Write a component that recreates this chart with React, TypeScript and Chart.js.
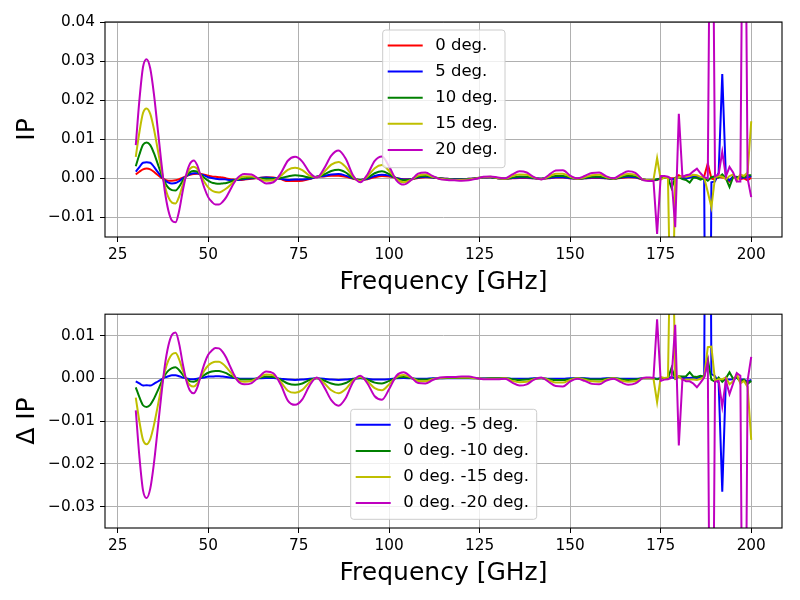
import { useEffect, useRef } from "react";
import { Chart, registerables } from "chart.js";

Chart.register(...registerables);

// frequency grid [GHz]: 1 GHz up to 60, 2 GHz to 170, then 1 GHz in the noisy band
const freq = [
  30, 31, 32, 33, 34, 35, 36, 37, 38, 39, 40, 41, 42, 43, 44, 45, 46, 47, 48, 49,
  50, 51, 52, 53, 54, 55, 56, 57, 58, 59, 60,
  62, 64, 66, 68, 70, 72, 74, 76, 78, 80, 82, 84, 86, 88, 90, 92, 94, 96, 98, 100,
  102, 104, 106, 108, 110, 112, 114, 116, 118, 120, 122, 124, 126, 128, 130, 132, 134, 136, 138, 140,
  142, 144, 146, 148, 150, 152, 154, 156, 158, 160, 162, 164, 166, 168, 170,
  171, 172, 173, 174, 175, 176, 177, 178, 179, 180, 181, 182, 183, 184, 185, 186, 187, 188, 189, 190,
  191, 192, 193, 194, 195, 196, 197, 198, 199, 200,
];

const ip0 = [
  0.0010, 0.0017, 0.0023, 0.0025, 0.0023, 0.0017, 0.0009, 0.0002, -0.0003, -0.0006,
  -0.0006, -0.0005, -0.0002, 0.0002, 0.0006, 0.0009, 0.0011, 0.0012, 0.0011, 0.0009,
  0.0007, 0.0005, 0.0004, 0.0003, 0.0002, 0.0000, -0.0002, -0.0003, -0.0004, -0.0004,
  -0.0003,
  -0.0001, 0.0001, 0.0003, 0.0002, -0.0002, -0.0007, -0.0007, -0.0006, -0.0002, 0.0004,
  0.0005, 0.0007, 0.0007, 0.0004, -0.0001, -0.0004, -0.0002, 0.0003, 0.0006, 0.0005,
  0.0001, -0.0002, -0.0002, 0.0001, 0.0003, 0.0002, 0.0000, -0.0001, -0.0002, -0.0002,
  -0.0001, 0.0000, 0.0002, 0.0003, 0.0000, -0.0001, 0.0000, 0.0001, 0.0001, 0.0000,
  -0.0001, 0.0000, 0.0002, 0.0002, 0.0000, -0.0001, 0.0000, 0.0001, 0.0001, 0.0000,
  -0.0001, 0.0001, 0.0003, 0.0002, -0.0003,
  -0.0004, -0.0005, -0.0005, -0.0004, 0.0000, 0.0003, 0.0002, 0.0000, 0.0000, 0.0008,
  0.0002, 0.0001, 0.0003, 0.0006, 0.0004, 0.0003, 0.0005, 0.0038, 0.0000, -0.0003,
  0.0004, 0.0002, 0.0000, -0.0008, 0.0003, 0.0004, -0.0002, 0.0000, -0.0005, 0.0002,
];

const ip5 = [
  0.0017, 0.0029, 0.0040, 0.0041, 0.0040, 0.0030, 0.0017, 0.0005, -0.0005, -0.0011,
  -0.0013, -0.0012, -0.0007, 0.0000, 0.0006, 0.0011, 0.0013, 0.0013, 0.0010, 0.0007,
  0.0003, 0.0001, -0.0001, -0.0002, -0.0002, -0.0003, -0.0004, -0.0004, -0.0004, -0.0003,
  -0.0002,
  0.0000, 0.0001, 0.0002, 0.0001, -0.0001, -0.0004, -0.0003, -0.0003, -0.0001, 0.0004,
  0.0006, 0.0010, 0.0011, 0.0007, 0.0000, -0.0004, -0.0001, 0.0006, 0.0009, 0.0007,
  0.0001, -0.0003, -0.0002, 0.0002, 0.0004, 0.0002, 0.0000, -0.0001, -0.0002, -0.0002,
  -0.0001, 0.0000, 0.0002, 0.0003, 0.0000, -0.0001, 0.0001, 0.0002, 0.0002, 0.0000,
  -0.0001, 0.0001, 0.0003, 0.0003, 0.0000, -0.0001, 0.0000, 0.0002, 0.0002, 0.0000,
  -0.0001, 0.0002, 0.0004, 0.0003, -0.0003,
  -0.0004, -0.0005, -0.0005, -0.0003, 0.0000, 0.0002, 0.0001, -0.0003, 0.0000, 0.0004,
  0.0001, 0.0000, 0.0002, 0.0004, 0.0003, 0.0001, 0.0000, -0.1500, -0.0010, -0.0008,
  0.0015, 0.0267, 0.0003, -0.0005, 0.0005, 0.0003, 0.0000, 0.0003, 0.0002, 0.0006,
];

const ip10 = [
  0.0031, 0.0061, 0.0086, 0.0092, 0.0085, 0.0065, 0.0039, 0.0013, -0.0010, -0.0024,
  -0.0030, -0.0031, -0.0021, -0.0006, 0.0007, 0.0016, 0.0019, 0.0017, 0.0009, 0.0001,
  -0.0006, -0.0011, -0.0013, -0.0014, -0.0013, -0.0012, -0.0009, -0.0006, -0.0003, -0.0001,
  0.0000,
  0.0002, 0.0000, -0.0001, -0.0001, 0.0001, 0.0005, 0.0008, 0.0006, 0.0002, 0.0004,
  0.0010, 0.0019, 0.0022, 0.0015, 0.0001, -0.0005, 0.0001, 0.0013, 0.0018, 0.0011,
  0.0000, -0.0005, -0.0003, 0.0004, 0.0006, 0.0003, 0.0000, -0.0002, -0.0003, -0.0003,
  -0.0002, 0.0000, 0.0003, 0.0003, 0.0000, -0.0001, 0.0002, 0.0005, 0.0004, 0.0001,
  -0.0001, 0.0002, 0.0006, 0.0006, 0.0002, -0.0001, 0.0001, 0.0004, 0.0004, 0.0001,
  -0.0001, 0.0003, 0.0007, 0.0005, -0.0003,
  -0.0004, -0.0005, -0.0005, -0.0002, 0.0000, 0.0003, 0.0002, -0.0025, 0.0001, 0.0003,
  -0.0002, -0.0004, -0.0011, 0.0002, 0.0001, -0.0003, 0.0001, -0.0006, 0.0003, 0.0005,
  0.0002, 0.0010, 0.0000, -0.0022, 0.0004, 0.0002, 0.0006, 0.0003, 0.0008, 0.0008,
];

const ip15 = [
  0.0055, 0.0118, 0.0167, 0.0179, 0.0165, 0.0127, 0.0077, 0.0026, -0.0018, -0.0048,
  -0.0062, -0.0064, -0.0046, -0.0016, 0.0009, 0.0025, 0.0030, 0.0024, 0.0007, -0.0010,
  -0.0023, -0.0031, -0.0035, -0.0036, -0.0032, -0.0026, -0.0018, -0.0009, -0.0002, 0.0003,
  0.0005,
  0.0005, -0.0001, -0.0006, -0.0005, 0.0006, 0.0022, 0.0027, 0.0021, 0.0007, 0.0003,
  0.0016, 0.0035, 0.0042, 0.0029, 0.0004, -0.0007, 0.0005, 0.0026, 0.0034, 0.0019,
  -0.0002, -0.0010, -0.0004, 0.0007, 0.0010, 0.0004, -0.0001, -0.0003, -0.0004, -0.0004,
  -0.0003, 0.0000, 0.0003, 0.0004, 0.0001, -0.0001, 0.0006, 0.0010, 0.0009, 0.0002,
  -0.0002, 0.0004, 0.0012, 0.0012, 0.0004, -0.0001, 0.0003, 0.0008, 0.0009, 0.0003,
  -0.0001, 0.0006, 0.0011, 0.0009, -0.0003,
  -0.0004, -0.0005, -0.0004, 0.0052, -0.0003, 0.0002, 0.0000, -0.0500, 0.0000, 0.0003,
  0.0006, 0.0004, 0.0006, 0.0009, 0.0008, 0.0004, 0.0002, -0.0035, -0.0074, 0.0003,
  0.0006, 0.0004, -0.0002, 0.0006, 0.0010, -0.0006, 0.0010, 0.0006, 0.0015, 0.0146,
];

const ip20 = [
  0.0085, 0.0200, 0.0285, 0.0305, 0.0281, 0.0217, 0.0132, 0.0046, -0.0031, -0.0082,
  -0.0108, -0.0112, -0.0082, -0.0031, 0.0012, 0.0038, 0.0046, 0.0033, 0.0003, -0.0026,
  -0.0048, -0.0060, -0.0067, -0.0067, -0.0060, -0.0048, -0.0031, -0.0014, 0.0000, 0.0008,
  0.0011,
  0.0010, -0.0002, -0.0013, -0.0010, 0.0012, 0.0045, 0.0055, 0.0043, 0.0015, 0.0002,
  0.0025, 0.0058, 0.0071, 0.0050, 0.0008, -0.0010, 0.0010, 0.0045, 0.0056, 0.0030,
  -0.0005, -0.0016, -0.0005, 0.0012, 0.0015, 0.0006, -0.0002, -0.0004, -0.0005, -0.0006,
  -0.0005, -0.0001, 0.0004, 0.0005, 0.0002, 0.0000, 0.0010, 0.0018, 0.0015, 0.0003,
  -0.0003, 0.0008, 0.0020, 0.0021, 0.0007, 0.0000, 0.0006, 0.0014, 0.0015, 0.0005,
  0.0000, 0.0010, 0.0018, 0.0014, -0.0004,
  -0.0006, -0.0007, -0.0006, -0.0142, 0.0006, 0.0006, 0.0004, -0.0001, -0.0125, 0.0165,
  0.0004, 0.0008, 0.0010, 0.0018, 0.0025, 0.0013, 0.0003, 0.0000, 0.1200, 0.0005,
  0.0010, 0.0068, 0.0005, 0.0029, 0.0015, -0.0008, -0.0008, 0.1200, 0.0000, -0.0048,
];

const ipLabels = ["0 deg.", "5 deg.", "10 deg.", "15 deg.", "20 deg."];
const dipLabels = ["0 deg. -5 deg.", "0 deg. -10 deg.", "0 deg. -15 deg.", "0 deg. -20 deg."];

const xTicks = [25, 50, 75, 100, 125, 150, 175, 200];
const ipTicks = [-0.01, 0, 0.01, 0.02, 0.03, 0.04];
const dipTicks = [-0.03, -0.02, -0.01, 0, 0.01];

const colours = ["#ff0000", "#0000ff", "#008000", "#bfbf00", "#bf00bf"];
const FONT = "'DejaVu Sans', sans-serif";

// smooth part is drawn as a spline, the noisy band above 170 GHz as straight segments
const splitAt = freq.indexOf(170);

function buildSets(series: number[][], cols: string[]) {
  const sets: any[] = [];
  series.forEach((vals, i) => {
    const pts = freq.map((f, j) => ({ x: f, y: vals[j] }));
    const base = {
      borderColor: cols[i],
      borderWidth: 2,
      pointRadius: 0,
      fill: false,
      order: series.length - 1 - i,
    };
    sets.push({ ...base, data: pts.slice(0, splitAt + 1), cubicInterpolationMode: "monotone" });
    sets.push({ ...base, data: pts.slice(splitAt), tension: 0 });
  });
  return sets;
}

function fmtY(v: number) {
  const s = Math.abs(v).toFixed(2);
  return v < -1e-9 ? "\u2212" + s : s;
}

interface LegendBox {
  left: number;
  top: number;
  width: number;
  height: number;
  labels: string[];
  cols: string[];
}

function framePlugin(box: LegendBox) {
  return {
    id: "frameAndLegend",
    afterDatasetsDraw(chart: Chart) {
      const { ctx, chartArea: a } = chart;
      ctx.save();
      ctx.strokeStyle = "#000";
      ctx.lineWidth = 1.1;
      ctx.strokeRect(a.left, a.top, a.right - a.left, a.bottom - a.top);

      ctx.beginPath();
      ctx.roundRect(box.left, box.top, box.width, box.height, 3);
      ctx.fillStyle = "rgba(255,255,255,0.8)";
      ctx.fill();
      ctx.strokeStyle = "#cccccc";
      ctx.lineWidth = 1;
      ctx.stroke();

      ctx.font = `16.5px ${FONT}`;
      ctx.textBaseline = "middle";
      ctx.textAlign = "left";
      box.labels.forEach((lab, i) => {
        const y = box.top + 15.5 + i * 26.1;
        ctx.beginPath();
        ctx.moveTo(box.left + 5, y);
        ctx.lineTo(box.left + 40, y);
        ctx.strokeStyle = box.cols[i];
        ctx.lineWidth = 2;
        ctx.stroke();
        ctx.fillStyle = "#000";
        ctx.fillText(lab, box.left + 52.5, y);
      });
      ctx.restore();
    },
  };
}

function makeConfig(
  sets: any[],
  yMin: number,
  yMax: number,
  yTicks: number[],
  yTitle: string,
  padTop: number,
  xHeight: number,
  xTitlePad: number,
  box: LegendBox
): any {
  return {
    type: "line",
    data: { datasets: sets },
    plugins: [framePlugin(box)],
    options: {
      animation: false,
      responsive: false,
      events: [],
      layout: { padding: { top: padTop, right: 18, bottom: 0, left: 0 } },
      plugins: { legend: { display: false }, tooltip: { enabled: false } },
      scales: {
        x: {
          type: "linear",
          min: 21.5,
          max: 208.5,
          afterBuildTicks: (s: any) => {
            s.ticks = xTicks.map((v) => ({ value: v }));
          },
          afterFit: (s: any) => {
            s.height = xHeight;
          },
          border: { display: false },
          grid: { color: "#b0b0b0", lineWidth: 1, tickColor: "#000", tickLength: 5, tickWidth: 1 },
          ticks: {
            color: "#000",
            font: { family: FONT, size: 15.3 },
            padding: 4,
            maxRotation: 0,
            autoSkip: false,
            callback: (v: any) => String(v),
          },
          title: {
            display: true,
            text: "Frequency [GHz]",
            color: "#000",
            font: { family: FONT, size: 25 },
            padding: { top: 0, bottom: xTitlePad },
          },
        },
        y: {
          type: "linear",
          min: yMin,
          max: yMax,
          afterBuildTicks: (s: any) => {
            s.ticks = yTicks.map((v) => ({ value: v }));
          },
          afterFit: (s: any) => {
            s.width = 105;
          },
          border: { display: false },
          grid: { color: "#b0b0b0", lineWidth: 1, tickColor: "#000", tickLength: 5, tickWidth: 1 },
          ticks: {
            color: "#000",
            font: { family: FONT, size: 15.3 },
            padding: 5,
            autoSkip: false,
            callback: (v: any) => fmtY(Number(v)),
          },
          title: {
            display: true,
            text: yTitle,
            color: "#000",
            font: { family: FONT, size: 25 },
            padding: { top: 12.5, bottom: 0 },
          },
        },
      },
    },
  };
}

export default function App() {
  const topRef = useRef<HTMLCanvasElement | null>(null);
  const bottomRef = useRef<HTMLCanvasElement | null>(null);

  useEffect(() => {
    if (!topRef.current || !bottomRef.current) return;

    const ipSeries = [ip0, ip5, ip10, ip15, ip20];
    const diffSeries = [ip5, ip10, ip15, ip20].map((s) => ip0.map((v, i) => v - s[i]));

    const top = new Chart(
      topRef.current,
      makeConfig(buildSets(ipSeries, colours), -0.015, 0.04, ipTicks, "IP", 22, 63, 2.5, {
        left: 382.7,
        top: 30,
        width: 122.3,
        height: 137.7,
        labels: ipLabels,
        cols: colours,
      })
    );
    const bottom = new Chart(
      bottomRef.current,
      makeConfig(buildSets(diffSeries, colours.slice(1)), -0.035, 0.015, dipTicks, "\u0394 IP", 13, 72, 11.5, {
        left: 350.7,
        top: 109.3,
        width: 186,
        height: 110,
        labels: dipLabels,
        cols: colours.slice(1),
      })
    );

    return () => {
      top.destroy();
      bottom.destroy();
    };
  }, []);

  return (
    <div style={{ position: "absolute", left: 0, top: 0, width: 800, height: 600, background: "#fff" }}>
      <canvas ref={topRef} width={800} height={300} style={{ display: "block" }} />
      <canvas ref={bottomRef} width={800} height={300} style={{ display: "block" }} />
    </div>
  );
}
